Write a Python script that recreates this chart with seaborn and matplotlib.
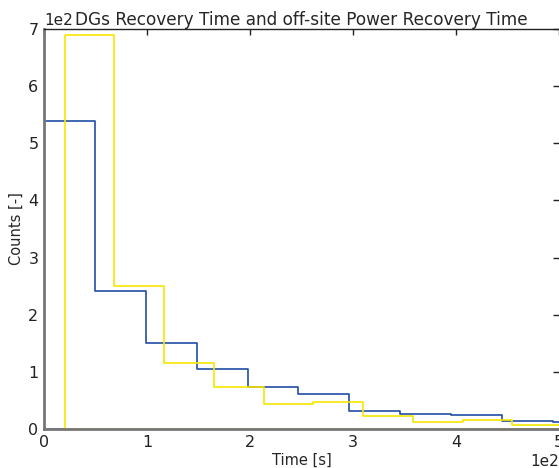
import numpy as np
import pandas as pd
import matplotlib
matplotlib.use("Agg")
import matplotlib.pyplot as plt
import seaborn as sns

# Bin edges (seconds) and counts
dg_edges = [0, 49.4, 98.8, 148.2, 197.6, 247.0, 296.4, 345.8, 395.2, 444.6, 494.0, 543.4]
dg_counts = [539, 242, 151, 105, 73, 61, 32, 27, 24, 14, 12]

op_edges = [20.0, 68.3, 116.6, 164.9, 213.2, 261.5, 309.8, 358.1, 406.4, 454.7, 503.0]
op_counts = [690, 250, 115, 74, 43, 47, 23, 12, 15, 7]

title = "DGs Recovery Time and off-site Power Recovery Time"
xlabel = "Time [s]"
ylabel = "Counts [-]"

sns.set_style("white")
plt.rcParams['font.family'] = ['DejaVu Sans']

fig = plt.figure(figsize=(5.59, 4.68), dpi=100)
ax = fig.add_axes([0.0787, 0.0833, 0.9213, 0.855])

def centers(e):
    e = np.asarray(e)
    return (e[:-1] + e[1:]) / 2

dg = pd.DataFrame({"t": centers(dg_edges), "n": dg_counts})
op = pd.DataFrame({"t": centers(op_edges), "n": op_counts})

for df, edges, col in [(dg, dg_edges, "#1f4ea6"), (op, op_edges, "#f5e600")]:
    n_before = len(ax.collections)
    sns.histplot(data=df, x="t", weights="n", bins=edges, element="step",
                 fill=True, color=col, linewidth=1.2, ax=ax)
    for coll in ax.collections[n_before:]:
        coll.set_alpha(1)
        coll.set_facecolor("none")
        coll.set_edgecolor(col)
        coll.set_linewidth(1.2)

ax.set_xlim(0, 500)
ax.set_ylim(0, 700)
ax.set_xticks([0, 100, 200, 300, 400, 500])
ax.set_yticks([0, 100, 200, 300, 400, 500, 600, 700])
ax.ticklabel_format(style='sci', axis='both', scilimits=(0, 0))
ax.set_title(title, fontsize=12.2, y=1.0, pad=3)
ax.set_xlabel(xlabel, fontsize=10.5, labelpad=2)
ax.set_ylabel(ylabel, fontsize=10.5, labelpad=3)
ax.tick_params(direction='in', length=4, width=1, labelsize=11.5, top=True, right=True,
               colors='#222222', pad=4)
for s in ['left', 'bottom']:
    ax.spines[s].set_color('#777777')
    ax.spines[s].set_linewidth(2.0)
ax.spines['top'].set_color('#222222')
ax.spines['top'].set_linewidth(1.0)
ax.spines['right'].set_visible(False)
ax.xaxis.get_offset_text().set_fontsize(11)
ax.yaxis.get_offset_text().set_fontsize(11)

fig.savefig("out.png", dpi=100)
